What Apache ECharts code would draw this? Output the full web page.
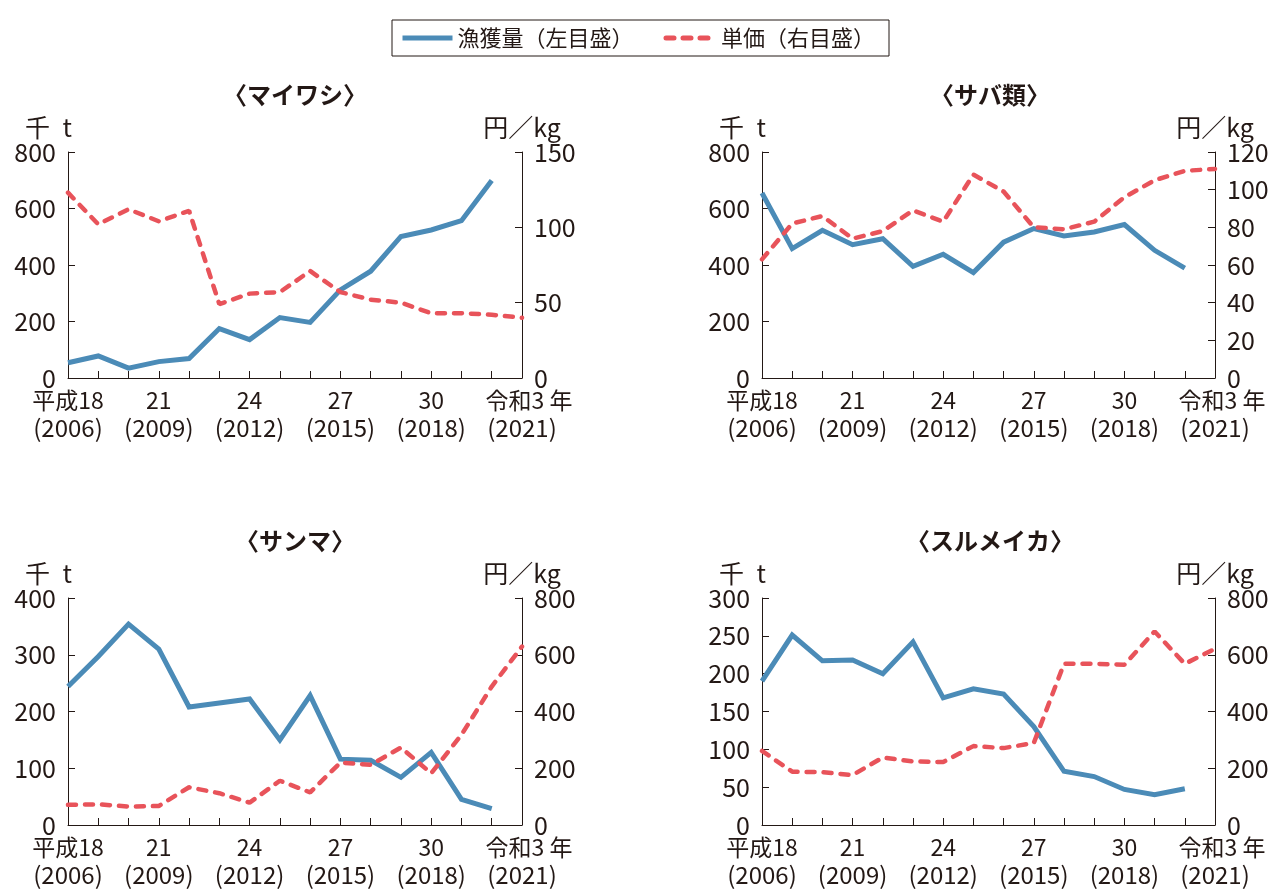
<!DOCTYPE html>
<html>
<head>
<meta charset="utf-8">
<script src="https://cdn.jsdelivr.net/npm/echarts@6/dist/echarts.min.js"></script>
<style>
  html, body { margin: 0; padding: 0; background: #fff; }
  #chart { width: 1282px; height: 889px; }
</style>
</head>
<body>
<div id="chart"></div>
<script>
// 年（平成18〜令和3）
const years = ['2006', '2007', '2008', '2009', '2010', '2011', '2012', '2013',
  '2014', '2015', '2016', '2017', '2018', '2019', '2020', '2021'];
const eraTicks = ['平成18', '21', '24', '27', '30', '令和3 年'];
const yearTicks = ['(2006)', '(2009)', '(2012)', '(2015)', '(2018)', '(2021)'];

const titles = ['〈マイワシ〉', '〈サバ類〉', '〈サンマ〉', '〈スルメイカ〉'];

// 漁獲量（千t）、単価（円/kg）
const iwashiCatch = [54, 78, 35, 58, 69, 175, 136, 214, 197, 312, 378, 501, 524, 557, 699, null];
const iwashiPrice = [123, 102, 112, 104, 111, 49, 56, 57, 71, 57, 52, 50, 43, 43, 42, 40];

const sabaCatch = [655, 458, 523, 472, 493, 395, 438, 373, 481, 529, 503, 517, 543, 452, 389, null];
const sabaPrice = [63, 82, 86, 74, 78, 89, 83, 108, 99, 80, 79, 83, 96, 105, 110, 111];

const sanmaCatch = [244, 297, 354, 310, 208, 215, 222, 150, 228, 116, 114, 84, 128, 45, 29, null];
const sanmaPrice = [71, 73, 65, 67, 133, 112, 79, 156, 115, 220, 212, 273, 182, 318, 488, 629];

const surumeCatch = [190, 251, 217, 218, 200, 242, 168, 180, 173, 130, 71, 64, 47, 40, 48, null];
const surumePrice = [261, 188, 186, 176, 238, 224, 222, 278, 271, 289, 568, 568, 565, 682, 568, 621];

// 目盛（左: 漁獲量, 右: 単価）
const leftMax = [800, 800, 400, 300];
const leftStep = [200, 200, 100, 50];
const rightMax = [150, 120, 800, 800];
const rightStep = [50, 20, 200, 200];

const catches = [iwashiCatch, sabaCatch, sanmaCatch, surumeCatch];
const prices = [iwashiPrice, sabaPrice, sanmaPrice, surumePrice];

const BLUE = '#4b8bb7';
const RED = '#e8535a';
const INK = '#231815';
const FONT = '"Noto Sans CJK JP", "Noto Sans", sans-serif';

const grids = [
  { left: 68, top: 152, width: 454, height: 226 },
  { left: 762, top: 152, width: 453, height: 226 },
  { left: 68, top: 598, width: 454, height: 227 },
  { left: 762, top: 598, width: 453, height: 227 }
];
const titlePos = [[295, 83], [990, 83], [295, 529], [990, 529]];

const axisLine = { show: true, lineStyle: { color: INK, width: 1 } };
const axisTick = { show: true, inside: true, length: 7, lineStyle: { color: INK, width: 1 } };

const xAxis = [], yAxis = [], series = [], title = [];
grids.forEach((g, i) => {
  title.push({
    text: titles[i],
    left: titlePos[i][0],
    top: titlePos[i][1],
    textAlign: 'center',
    padding: 0,
    textStyle: { fontFamily: FONT, fontSize: 24, fontWeight: 'bold', color: INK }
  });
  xAxis.push({
    type: 'category',
    gridIndex: i,
    data: years,
    boundaryGap: false,
    axisLine: axisLine,
    axisTick: { show: true, inside: true, length: 7, interval: 0, lineStyle: { color: INK, width: 1 } },
    axisLabel: {
      interval: 2,
      showMinLabel: true,
      showMaxLabel: true,
      hideOverlap: false,
      margin: 8,
      color: INK,
      fontFamily: FONT,
      fontSize: 23,
      lineHeight: 28,
      formatter: (v, idx) => {
        const k = Math.round(idx / 3);
        const top = k === 5 ? '{r|' + eraTicks[k] + '}' : '{e|' + eraTicks[k] + '}';
        return top + '\n{y|' + yearTicks[k] + '}';
      },
      rich: {
        e: { fontFamily: FONT, fontSize: 23, lineHeight: 28, color: INK },
        y: { fontFamily: FONT, fontSize: 24, lineHeight: 28, color: INK },
        r: { fontFamily: FONT, fontSize: 23, lineHeight: 28, color: INK, padding: [0, 0, 0, 14] }
      }
    },
    splitLine: { show: false }
  });
  yAxis.push({
    type: 'value',
    gridIndex: i,
    position: 'left',
    min: 0,
    max: leftMax[i],
    interval: leftStep[i],
    name: '千\u2002t',
    nameLocation: 'end',
    nameGap: 12,
    nameTextStyle: { fontFamily: FONT, fontSize: 25, color: INK, align: 'right', verticalAlign: 'bottom', padding: [0, -4, 0, 0] },
    axisLine: axisLine,
    axisTick: axisTick,
    axisLabel: { color: INK, fontFamily: FONT, fontSize: 25, margin: 12 },
    splitLine: { show: false }
  });
  yAxis.push({
    type: 'value',
    gridIndex: i,
    position: 'right',
    min: 0,
    max: rightMax[i],
    interval: rightStep[i],
    name: '円／kg',
    nameLocation: 'end',
    nameGap: 12,
    nameTextStyle: { fontFamily: FONT, fontSize: 25, color: INK, align: 'center', verticalAlign: 'bottom' },
    axisLine: axisLine,
    axisTick: axisTick,
    axisLabel: { color: INK, fontFamily: FONT, fontSize: 25, margin: 12 },
    splitLine: { show: false }
  });
  series.push({
    name: '漁獲量（左目盛）',
    type: 'line',
    xAxisIndex: i,
    yAxisIndex: i * 2,
    data: catches[i],
    symbol: 'none',
    lineStyle: { color: BLUE, width: 5, join: 'miter' },
    itemStyle: { color: BLUE },
    z: 2
  });
  series.push({
    name: '単価（右目盛）',
    type: 'line',
    xAxisIndex: i,
    yAxisIndex: i * 2 + 1,
    data: prices[i],
    symbol: 'none',
    lineStyle: { color: RED, width: 4.5, type: [8, 9], cap: 'round' },
    itemStyle: { color: RED },
    z: 3
  });
});

const chart = echarts.init(document.getElementById('chart'));
chart.setOption({
  animation: false,
  backgroundColor: '#fff',
  title: title,
  legend: {
    left: 392,
    top: 20,
    padding: [7, 14, 7, 8],
    borderColor: INK,
    borderWidth: 1,
    itemWidth: 50,
    itemHeight: 10,
    itemGap: 30,
    itemStyle: { opacity: 0 },
    lineStyle: { width: 5 },
    textStyle: { fontFamily: FONT, fontSize: 22, color: INK },
    data: ['漁獲量（左目盛）', '単価（右目盛）']
  },
  grid: grids,
  xAxis: xAxis,
  yAxis: yAxis,
  series: series
});
</script>
</body>
</html>
